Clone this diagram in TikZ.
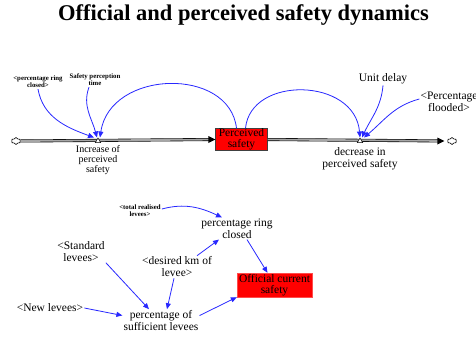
\documentclass[tikz,border=0pt]{standalone}
\usepackage{fontspec}
\setmainfont{Liberation Serif}
\usetikzlibrary{arrows.meta,shapes.geometric,shapes.symbols}
\definecolor{lnk}{RGB}{40,40,255}
\definecolor{boxred}{RGB}{255,0,0}
\begin{document}
\begin{tikzpicture}[x=1pt,y=1pt,
 lbl/.style={align=center, inner sep=1pt, font=\fontsize{11.5}{12}\selectfont},
 tiny/.style={align=center, inner sep=1pt, font=\fontsize{6.8}{7}\selectfont\bfseries},
 stock/.style={draw=black!75, fill=boxred, minimum width=52pt, minimum height=22pt, inner sep=0pt, align=center, font=\fontsize{11.5}{11}\selectfont},
 aux/.style={fill=boxred, draw=red!70!white, minimum width=75pt, minimum height=24pt, inner sep=0pt, align=center, font=\fontsize{11.5}{11}\selectfont},
 conn/.style={draw=lnk, line width=0.8pt, -{Triangle[length=6pt,width=5pt]}},
 pipe/.style={draw=black, line width=0.6pt, double=gray!70, double distance=1.8pt},
 cloudn/.style={cloud, cloud puffs=6, draw, minimum width=9pt, minimum height=7pt, inner sep=0pt, line width=0.6pt},
 valve/.style={regular polygon, regular polygon sides=3, draw, fill=white, inner sep=0pt, minimum size=6pt, line width=0.5pt},
 ]
\useasboundingbox (0,0) rectangle (476,-337);
\clip (0,0) rectangle (476,-337);

\node[anchor=base, inner sep=0pt, font=\fontsize{22.5}{24}\selectfont\bfseries] (title) at (243.5,-21) {Official and perceived safety dynamics};

% stocks and flows
\node[cloudn] (cL) at (16,-141) {};
\node[cloudn] (cR) at (452,-141) {};
\node[stock] (ps) at (241.5,-139.5) {Perceived\\safety};
\draw[pipe, shorten >=6pt] (cL.east) -- (ps.west);
\draw[pipe, shorten >=8pt] (ps.east) -- (cR.west);
\fill[black] (ps.west) -- ++(-7,3.5) -- ++(0,-7) -- cycle;
\fill[black] ([xshift=-3pt]cR.west) -- ++(-7,3.5) -- ++(0,-7) -- cycle;
\node[valve] (v1) at (98,-141) {};
\node[valve] (v2) at (360,-141) {};
\node[lbl, font=\fontsize{10}{9.8}\selectfont] (lI) at (98,-160) {Increase of\\perceived\\safety};
\node[lbl] (lD) at (360,-158.5) {decrease in\\perceived safety};

% auxiliaries (top)
\node[tiny] (prc1) at (38,-82) {<percentage ring\\closed>};
\node[tiny] (spt) at (95,-80) {Safety perception\\time};
\node[lbl] (ud) at (383,-79) {Unit delay};
\node[lbl] (pf) at (449,-102) {<Percentage\\flooded>};

% links (top)
\draw[conn] ([xshift=-5pt]ps.north) .. controls +(-7,62) and +(10,68) .. ([xshift=2pt]v1.north);
\draw[conn] ([xshift=4pt]ps.north) .. controls +(5,53) and +(-5,60) .. (v2.north);
\draw[conn] (prc1.south) to[out=-80,in=160] ([xshift=-4pt]v1.north);
\draw[conn] ([xshift=-6pt]spt.south) to[out=-110,in=105] ([xshift=-1pt]v1.north);
\draw[conn] (ud.south) to[out=-95,in=65] ([xshift=2pt]v2.north);
\draw[conn] ([yshift=3pt]pf.west) to[out=-165,in=40] ([xshift=4pt]v2.north);

% bottom
\node[tiny] (trl) at (140,-211) {<total realised\\levees>};
\node[lbl] (prc) at (237,-228.5) {percentage ring\\closed};
\node[aux] (ocs) at (274.5,-285) {Official current\\safety};
\node[lbl] (dkl) at (177,-267) {<desired km of\\levee>};
\node[lbl] (sl) at (81,-251.5) {<Standard\\levees>};
\node[lbl] (nl) at (50,-308) {<New levees>};
\node[lbl] (psl) at (161,-320.5) {percentage of\\sufficient levees};

\draw[conn] ([yshift=2pt]trl.east) to[out=15,in=155] ([xshift=-15pt]prc.north);
\draw[conn] ([xshift=20pt]dkl.north) -- ([xshift=-18pt]prc.south);
\draw[conn] ([xshift=10pt]prc.south) -- ([xshift=-7pt]ocs.north);
\draw[conn] (sl.south east) -- ([xshift=-12pt]psl.north);
\draw[conn] (nl.east) -- ([yshift=5pt]psl.west);
\draw[conn] ([xshift=-3pt]dkl.south) -- ([xshift=6pt]psl.north);
\draw[conn] ([yshift=5pt]psl.east) -- (ocs.south west);
\end{tikzpicture}
\end{document}
